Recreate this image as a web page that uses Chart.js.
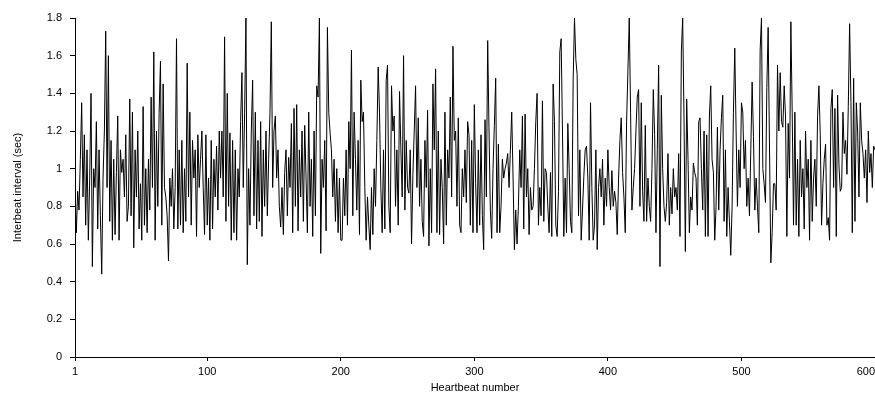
<!DOCTYPE html>
<html>
<head>
<meta charset="utf-8">
<script src="https://cdn.jsdelivr.net/npm/chart.js@4/dist/chart.umd.min.js"></script>
<style>
  html, body { margin: 0; padding: 0; background: #fff; }
  #wrap { width: 875px; height: 403px; }
</style>
</head>
<body>
<div id="wrap"><canvas id="c" width="875" height="403"></canvas></div>
<script>
// interbeat intervals (sec) in blocks of 50 beats
const beats1to50 = [0.92, 0.66, 0.88, 0.78, 1.05, 1.35, 0.85, 1.18, 0.7, 1.1, 0.62, 0.95, 1.40, 0.48, 1.0, 0.9, 1.25, 0.68, 1.1, 0.75, 0.44, 0.95, 1.2, 1.73, 0.9, 1.6, 0.72, 1.15, 0.62, 1.05, 0.65, 0.98, 1.28, 0.62, 1.1, 0.98, 1.05, 0.85, 1.18, 0.72, 0.8, 1.37, 0.75, 1.3, 0.58, 1.1, 0.85, 1.2, 0.68, 0.92];
const beats51to100 = [0.62, 1.33, 0.7, 1.0, 0.66, 1.05, 0.78, 1.38, 0.9, 1.62, 0.62, 1.2, 0.8, 1.3, 1.57, 0.7, 1.45, 0.9, 0.85, 0.75, 0.51, 0.95, 0.8, 1.0, 0.68, 0.9, 1.69, 0.68, 1.1, 0.7, 1.15, 0.66, 1.0, 0.72, 1.56, 0.85, 1.3, 0.7, 1.15, 0.95, 1.1, 0.64, 1.18, 0.9, 1.05, 1.2, 0.9, 0.65, 1.18, 0.7];
const beats101to150 = [0.95, 0.62, 1.15, 0.68, 1.05, 0.85, 1.12, 0.78, 1.2, 0.95, 1.2, 0.85, 1.70, 0.72, 1.4, 0.8, 1.19, 0.62, 1.15, 0.66, 1.1, 0.62, 1.0, 0.85, 1.25, 1.51, 0.9, 1.3, 1.80, 0.49, 1.0, 0.7, 1.2, 1.47, 0.75, 1.3, 0.68, 1.15, 0.72, 1.25, 0.64, 1.1, 0.8, 1.2, 0.75, 1.05, 1.3, 1.78, 0.9, 1.2];
const beats151to200 = [1.28, 0.95, 1.1, 0.8, 0.69, 0.9, 0.65, 0.98, 1.1, 0.75, 1.06, 0.9, 1.24, 0.66, 1.32, 0.8, 1.34, 0.67, 1.1, 0.85, 1.2, 0.72, 1.23, 0.95, 0.66, 1.3, 0.8, 1.05, 0.64, 1.2, 0.75, 1.44, 1.38, 1.80, 0.55, 1.05, 0.9, 1.15, 0.67, 1.75, 1.3, 1.19, 1.1, 0.85, 1.05, 0.72, 1.0, 0.66, 0.95, 0.62];
const beats201to250 = [0.62, 0.95, 0.75, 1.1, 0.7, 1.25, 1.0, 1.63, 0.75, 1.3, 1.05, 0.78, 1.15, 0.65, 1.47, 1.25, 1.3, 0.9, 0.62, 0.85, 0.7, 0.57, 0.9, 0.65, 1.0, 0.8, 1.15, 1.54, 1.3, 0.9, 0.66, 1.1, 0.68, 1.47, 1.55, 0.8, 0.66, 1.44, 1.2, 1.28, 0.8, 1.1, 0.7, 1.41, 1.1, 0.85, 1.6, 0.78, 1.15, 0.9];
const beats251to300 = [0.87, 1.1, 0.6, 0.97, 1.2, 1.44, 0.9, 1.27, 0.8, 1.05, 0.72, 0.64, 1.15, 0.9, 1.31, 0.59, 1.0, 0.66, 1.45, 1.1, 1.53, 0.66, 1.2, 0.65, 1.05, 0.9, 0.6, 1.3, 0.7, 1.1, 0.95, 1.38, 0.85, 1.65, 1.15, 1.2, 0.8, 1.27, 0.7, 0.66, 1.0, 0.85, 1.1, 0.82, 1.25, 1.18, 0.7, 1.15, 0.66, 1.34];
const beats301to350 = [0.92, 0.66, 1.1, 0.7, 1.18, 0.75, 0.57, 1.26, 0.85, 1.68, 1.2, 0.78, 0.63, 1.0, 1.23, 1.48, 0.66, 1.13, 0.66, 0.8, 1.05, 0.95, 1.0, 1.03, 1.08, 0.9, 1.1, 1.3, 0.95, 0.57, 0.78, 0.6, 0.8, 1.1, 0.9, 1.28, 0.68, 1.29, 0.85, 1.0, 0.65, 0.9, 0.78, 0.8, 1.0, 1.25, 1.4, 0.7, 0.9, 0.75];
const beats351to400 = [1.36, 0.72, 1.0, 0.98, 0.8, 0.66, 0.98, 0.64, 1.45, 1.25, 0.7, 0.64, 0.88, 1.62, 1.69, 1.2, 0.64, 0.95, 0.66, 1.24, 1.0, 0.72, 0.66, 1.47, 1.80, 1.58, 1.5, 0.75, 1.1, 0.62, 0.78, 0.96, 1.1, 1.12, 0.95, 0.62, 1.35, 0.9, 0.62, 0.7, 1.1, 0.57, 0.9, 1.0, 0.85, 1.05, 0.7, 0.95, 0.8, 1.1];
const beats401to450 = [0.9, 0.78, 0.99, 0.8, 0.88, 0.82, 0.65, 0.95, 1.15, 1.27, 0.98, 0.85, 0.66, 1.25, 1.52, 1.80, 1.3, 0.78, 0.9, 1.0, 1.2, 1.38, 1.42, 0.8, 1.35, 0.88, 0.72, 1.23, 0.72, 0.95, 0.8, 0.72, 1.0, 1.42, 1.18, 0.66, 1.1, 1.55, 0.48, 1.39, 1.0, 0.8, 0.72, 0.82, 1.08, 0.7, 0.9, 0.76, 1.0, 0.85];
const beats451to500 = [0.9, 0.78, 1.08, 0.64, 1.62, 1.80, 1.27, 0.56, 1.37, 1.05, 0.66, 0.85, 0.78, 1.03, 0.98, 0.95, 0.7, 1.25, 1.27, 1.0, 0.78, 1.2, 0.64, 1.18, 0.64, 1.28, 1.44, 1.05, 0.98, 0.62, 0.8, 1.22, 0.78, 1.1, 1.27, 1.39, 0.72, 1.1, 0.64, 0.9, 0.72, 0.54, 0.8, 1.3, 1.64, 1.2, 0.8, 1.1, 0.9, 1.35];
const beats501to550 = [1.3, 1.0, 1.15, 0.8, 0.95, 0.75, 1.1, 1.46, 1.17, 0.78, 0.95, 0.8, 0.66, 1.63, 1.80, 1.0, 0.92, 0.82, 1.43, 1.75, 1.12, 0.5, 0.66, 0.92, 0.92, 0.78, 1.55, 1.2, 1.51, 1.25, 1.22, 1.44, 1.28, 0.64, 1.24, 0.95, 1.78, 1.3, 0.7, 1.3, 0.7, 1.05, 0.64, 1.15, 0.85, 1.0, 0.68, 1.2, 0.9, 1.05];
const beats551to600 = [0.62, 1.15, 0.72, 0.95, 1.05, 0.8, 1.28, 1.44, 1.18, 0.7, 0.92, 1.05, 1.13, 0.7, 0.74, 0.62, 1.32, 1.42, 0.9, 1.32, 0.64, 1.39, 1.02, 0.88, 0.9, 1.3, 1.08, 1.15, 0.97, 1.33, 1.77, 1.35, 0.66, 1.48, 0.72, 1.35, 1.2, 0.85, 1.35, 1.15, 1.08, 0.95, 1.1, 0.82, 1.2, 0.98, 1.08, 0.9, 1.12, 1.1];

const xTicks = [1, 100, 200, 300, 400, 500, 600];
const yTicks = [0, 0.2, 0.4, 0.6, 0.8, 1, 1.2, 1.4, 1.6, 1.8];

const intervals = [].concat(beats1to50, beats51to100, beats101to150, beats151to200,
  beats201to250, beats251to300, beats301to350, beats351to400, beats401to450,
  beats451to500, beats501to550, beats551to600);

const font = {family: 'Liberation Sans, Arial, sans-serif', size: 11};

// the last x label sits flush against the right edge instead of being cut
const lastLabelFlush = {
  id: 'lastLabelFlush',
  beforeDraw(chart) {
    const items = chart.scales.x.getLabelItems();
    const last = items[items.length - 1];
    if (last) last.options.textAlign = 'right';
  }
};

new Chart(document.getElementById('c'), {
  type: 'line',
  data: {
    datasets: [{
      data: intervals.map((v, i) => ({x: i + 1, y: v})),
      borderColor: '#000',
      borderWidth: 1,
      pointRadius: 0,
      tension: 0,
      fill: false
    }]
  },
  plugins: [lastLabelFlush],
  options: {
    responsive: false,
    animation: false,
    layout: {padding: {top: 18, right: 0, bottom: 0, left: 0}},
    plugins: {legend: {display: false}, tooltip: {enabled: false}},
    scales: {
      x: {
        type: 'linear',
        min: 1,
        max: 600,
        afterBuildTicks: scale => { scale.ticks = xTicks.map(v => ({value: v})); },
        afterFit: scale => { scale.height = 46; scale.paddingLeft = 0; scale.paddingRight = 0; },
        ticks: {color: '#000', font: font, maxRotation: 0, padding: 4},
        grid: {drawOnChartArea: false, color: '#000', tickLength: 4},
        border: {color: '#000', width: 1},
        title: {display: true, text: 'Heartbeat number', color: '#000', font: font, padding: {top: 0, bottom: 8}}
      },
      y: {
        min: 0,
        max: 1.8,
        afterBuildTicks: scale => { scale.ticks = yTicks.map(v => ({value: v})); },
        afterFit: scale => { scale.width = 75; scale.paddingTop = 0; scale.paddingBottom = 0; },
        ticks: {color: '#000', font: font, padding: 8, callback: v => String(Number(v.toFixed(1)))},
        grid: {drawOnChartArea: false, color: '#000', tickLength: 5},
        border: {color: '#000', width: 1},
        title: {display: true, text: 'Interbeat interval (sec)', color: '#000', font: font, padding: {top: 11, bottom: 0}}
      }
    }
  }
});
</script>
</body>
</html>
